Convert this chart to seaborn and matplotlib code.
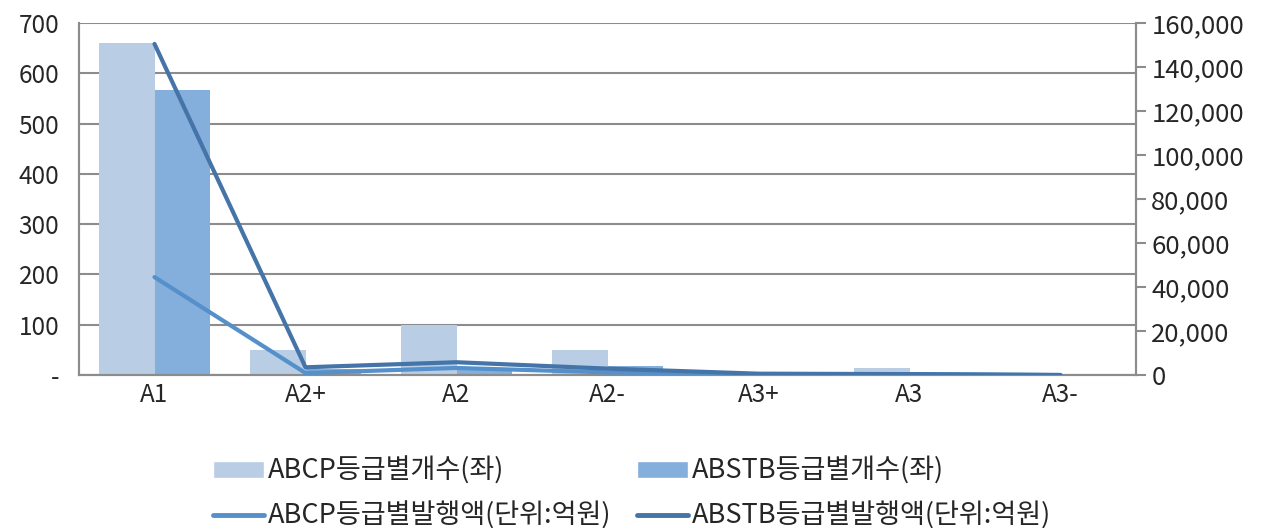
import numpy as np
import pandas as pd
import matplotlib
matplotlib.use('Agg')
import matplotlib.pyplot as plt
import seaborn as sns
from matplotlib.patches import Patch
from matplotlib.lines import Line2D
from matplotlib.ticker import FuncFormatter

# data
grades = ['A1', 'A2+', 'A2', 'A2-', 'A3+', 'A3', 'A3-']
abcp_count = [660, 49, 100, 49, 0, 13, 0]
abstb_count = [567, 12, 13, 17, 0, 2, 0]
abcp_amount = [44500, 900, 3200, 1200, 300, 400, 0]
abstb_amount = [150500, 3500, 5800, 2900, 600, 400, 0]

count_names = ['ABCP등급별개수(좌)', 'ABSTB등급별개수(좌)']
amount_names = ['ABCP등급별발행액(단위:억원)', 'ABSTB등급별발행액(단위:억원)']

bar_colors = ['#b9cde5', '#84aedb']
line_colors = ['#5590cb', '#4474a8']
grid_color = '#8c8c8c'

sns.set_theme(style='white')
plt.rcParams['font.family'] = ['Noto Sans CJK KR', 'DejaVu Sans']

bars = pd.DataFrame({
    'grade': grades * 2,
    'count': abcp_count + abstb_count,
    'series': [count_names[0]] * 7 + [count_names[1]] * 7,
})

fig = plt.figure(figsize=(12.61, 5.28), dpi=100)
ax = fig.add_axes([79 / 1261, 1 - 375 / 528, (1136 - 79) / 1261, (375 - 23) / 528])

sns.barplot(data=bars, x='grade', y='count', hue='series', palette=bar_colors,
            width=0.73, gap=0, saturation=1, ax=ax, legend=False, zorder=2)
for p in ax.patches:
    p.set_linewidth(0)

ax.set_ylim(0, 700)
ax.set_xlim(-0.5, 6.5)
ax.set_yticks(range(0, 701, 100))
ax.yaxis.set_major_formatter(FuncFormatter(lambda v, _: '-' if v == 0 else f'{int(v)}'))
ax.grid(axis='y', color=grid_color, linewidth=1.5, zorder=0)
ax.set_axisbelow(True)
ax.set_xlabel('')
ax.set_ylabel('')
ax.tick_params(axis='y', length=0, pad=14, labelsize=17.5)
ax.tick_params(axis='x', length=0, pad=5, labelsize=17.5)
for s in ['left', 'bottom', 'right']:
    ax.spines[s].set_color(grid_color)
    ax.spines[s].set_linewidth(1.5)
ax.spines['top'].set_visible(False)

# issued amounts on the right axis
ax2 = ax.twinx()
x_pos = np.arange(len(grades))
sns.lineplot(x=x_pos, y=abcp_amount, color=line_colors[0], linewidth=3, ax=ax2, zorder=3)
sns.lineplot(x=x_pos, y=abstb_amount, color=line_colors[1], linewidth=3, ax=ax2, zorder=3)
ax2.set_ylim(0, 160000)
ax2.set_yticks(range(0, 160001, 20000))
ax2.yaxis.set_major_formatter(FuncFormatter(lambda v, _: f'{int(v):,}'))
ax2.tick_params(axis='y', length=7, width=1.5, color=grid_color, pad=4, labelsize=18.5, right=True)
for s in ['left', 'bottom', 'right']:
    ax2.spines[s].set_color(grid_color)
    ax2.spines[s].set_linewidth(1.5)
ax2.spines['top'].set_visible(False)

handles = [
    Patch(facecolor=bar_colors[0], label=count_names[0]),
    Line2D([], [], color=line_colors[0], linewidth=3.5, label=amount_names[0]),
    Patch(facecolor=bar_colors[1], label=count_names[1]),
    Line2D([], [], color=line_colors[1], linewidth=3.5, label=amount_names[1]),
]
fig.legend(handles=handles, loc='upper left', bbox_to_anchor=(213 / 1261, 1 - 457 / 528),
           ncol=2, frameon=False, fontsize=19.5, handlelength=1.9, handleheight=0.55,
           handletextpad=0.12, columnspacing=0.95, labelspacing=0.62,
           borderpad=0, borderaxespad=0)

fig.savefig('out.png', dpi=100)
